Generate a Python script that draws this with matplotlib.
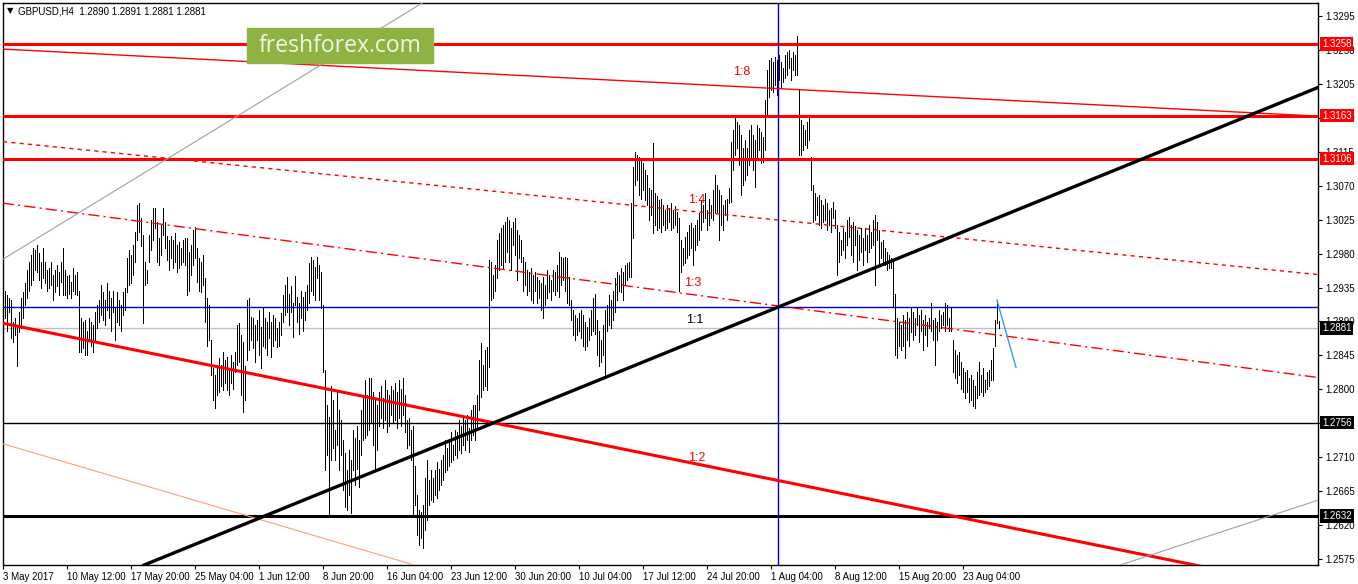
import matplotlib
matplotlib.use("Agg")
import matplotlib.pyplot as plt
from matplotlib.patches import Rectangle

plt.rcParams['font.family'] = ['Liberation Sans', 'DejaVu Sans']

symbol = "GBPUSD,H4"
last_ohlc = [1.2890, 1.2891, 1.2881, 1.2881]

# H4 bars, one label every 32 bars
date_labels = ["3 May 2017", "10 May 12:00", "17 May 20:00", "25 May 04:00", "1 Jun 12:00",
               "8 Jun 20:00", "16 Jun 04:00", "23 Jun 12:00", "30 Jun 20:00", "10 Jul 04:00",
               "17 Jul 12:00", "24 Jul 20:00", "1 Aug 04:00", "8 Aug 12:00", "15 Aug 20:00",
               "23 Aug 04:00"]
bars_per_label = 32

y_ticks = [1.3295, 1.3250, 1.3205, 1.3160, 1.3115, 1.3070, 1.3025, 1.2980, 1.2935,
           1.2890, 1.2845, 1.2800, 1.2755, 1.2710, 1.2665, 1.2620, 1.2575]

highs = [
    1.2947, 1.2931, 1.2925, 1.2921, 1.2918, 1.2889, 1.2894, 1.2885, 1.2902, 1.2921,
    1.2929, 1.2941, 1.2958, 1.2969, 1.2978, 1.2987, 1.2985, 1.2991, 1.2981, 1.2969,
    1.2987, 1.2969, 1.2958, 1.2961, 1.2969, 1.2951, 1.2958, 1.2965, 1.2955, 1.2969,
    1.2987, 1.2958, 1.2950, 1.2951, 1.2942, 1.2961, 1.2951, 1.2955, 1.2931, 1.2894,
    1.2889, 1.2892, 1.2878, 1.2894, 1.2889, 1.2885, 1.2902, 1.2912, 1.2918, 1.2938,
    1.2929, 1.2918, 1.2941, 1.2931, 1.2921, 1.2931, 1.2908, 1.2929, 1.2918, 1.2912,
    1.2929, 1.2934, 1.2974, 1.2985, 1.2978, 1.2991, 1.3008, 1.3045, 1.3047, 1.3027,
    1.3004, 1.2969, 1.2958, 1.3004, 1.3024, 1.3040, 1.3041, 1.3022, 1.3000, 1.3018,
    1.3041, 1.3022, 1.3003, 1.2998, 1.3003, 1.2998, 1.3007, 1.2991, 1.2995, 1.2987,
    1.2998, 1.3000, 1.3000, 1.2982, 1.2991, 1.3011, 1.3015, 1.2987, 1.2974, 1.2969,
    1.2978, 1.2947, 1.2921, 1.2912, 1.2865, 1.2828, 1.2819, 1.2832, 1.2841, 1.2832,
    1.2849, 1.2839, 1.2843, 1.2828, 1.2845, 1.2836, 1.2849, 1.2885, 1.2888, 1.2872,
    1.2863, 1.2831, 1.2918, 1.2921, 1.2896, 1.2894, 1.2885, 1.2892, 1.2905, 1.2882,
    1.2908, 1.2894, 1.2889, 1.2902, 1.2889, 1.2898, 1.2894, 1.2881, 1.2889, 1.2901,
    1.2925, 1.2938, 1.2949, 1.2927, 1.2937, 1.2915, 1.2950, 1.2923, 1.2915, 1.2931,
    1.2922, 1.2929, 1.2938, 1.2967, 1.2975, 1.2971, 1.2962, 1.2976, 1.2965, 1.2955,
    1.2912, 1.2825, 1.2779, 1.2763, 1.2805, 1.2786, 1.2746, 1.2799, 1.2772, 1.2759,
    1.2733, 1.2715, 1.2693, 1.2719, 1.2706, 1.2746, 1.2735, 1.2752, 1.2733, 1.2772,
    1.2788, 1.2812, 1.2792, 1.2815, 1.2815, 1.2796, 1.2786, 1.2779, 1.2796, 1.2805,
    1.2788, 1.2812, 1.2799, 1.2792, 1.2805, 1.2799, 1.2808, 1.2796, 1.2812, 1.2801,
    1.2815, 1.2792, 1.2759, 1.2762, 1.2746, 1.2752, 1.2699, 1.2660, 1.2640, 1.2637,
    1.2646, 1.2682, 1.2706, 1.2680, 1.2693, 1.2682, 1.2693, 1.2703, 1.2695, 1.2706,
    1.2713, 1.2733, 1.2722, 1.2733, 1.2743, 1.2726, 1.2746, 1.2743, 1.2759, 1.2752,
    1.2762, 1.2759, 1.2766, 1.2749, 1.2772, 1.2779, 1.2779, 1.2792, 1.2839, 1.2861,
    1.2832, 1.2852, 1.2856, 1.2971, 1.2969, 1.2951, 1.2965, 1.2998, 1.3007, 1.3014,
    1.3018, 1.3022, 1.3028, 1.3024, 1.3014, 1.3022, 1.3027, 1.3011, 1.3004, 1.2998,
    1.2975, 1.2969, 1.2958, 1.2955, 1.2961, 1.2951, 1.2955, 1.2949, 1.2945, 1.2941,
    1.2949, 1.2938, 1.2958, 1.2951, 1.2945, 1.2958, 1.2955, 1.2965, 1.2982, 1.2975,
    1.2974, 1.2975, 1.2974, 1.2949, 1.2918, 1.2905, 1.2898, 1.2894, 1.2901, 1.2905,
    1.2898, 1.2889, 1.2882, 1.2894, 1.2905, 1.2921, 1.2927, 1.2892, 1.2878, 1.2865,
    1.2885, 1.2905, 1.2912, 1.2925, 1.2918, 1.2931, 1.2947, 1.2955, 1.2951, 1.2961,
    1.2955, 1.2965, 1.2967, 1.2969, 1.3047, 1.3095, 1.3114, 1.3111, 1.3108, 1.3104,
    1.3100, 1.3091, 1.3084, 1.3067, 1.3064, 1.3126, 1.3060, 1.3056, 1.3051, 1.3053,
    1.3044, 1.3038, 1.3044, 1.3040, 1.3047, 1.3038, 1.3043, 1.3035, 1.3027, 1.2998,
    1.2987, 1.3002, 1.3008, 1.3018, 1.3020, 1.3014, 1.3018, 1.3024, 1.3034, 1.3051,
    1.3044, 1.3060, 1.3038, 1.3053, 1.3044, 1.3064, 1.3084, 1.3071, 1.3064, 1.3057,
    1.3044, 1.3051, 1.3053, 1.3067, 1.3128, 1.3144, 1.3160, 1.3154, 1.3150, 1.3137,
    1.3120, 1.3130, 1.3120, 1.3144, 1.3150, 1.3137, 1.3130, 1.3150, 1.3146, 1.3141,
    1.3134, 1.3183, 1.3223, 1.3236, 1.3239, 1.3234, 1.3240, 1.3236, 1.3243, 1.3234,
    1.3226, 1.3243, 1.3247, 1.3250, 1.3239, 1.3247, 1.3243, 1.3268, 1.3197, 1.3157,
    1.3150, 1.3144, 1.3154, 1.3162, 1.3108, 1.3071, 1.3060, 1.3055, 1.3057, 1.3051,
    1.3044, 1.3053, 1.3047, 1.3038, 1.3040, 1.3048, 1.3038, 1.3018, 1.3008, 1.2998,
    1.3014, 1.3008, 1.3024, 1.3028, 1.3018, 1.3022, 1.3016, 1.3011, 1.3004, 1.3014,
    1.3000, 1.3014, 1.3004, 1.3018, 1.3008, 1.3024, 1.3031, 1.3022, 1.3011, 1.2995,
    1.2998, 1.2987, 1.2982, 1.2978, 1.2974, 1.2971, 1.2927, 1.2894, 1.2889, 1.2885,
    1.2898, 1.2892, 1.2902, 1.2894, 1.2909, 1.2902, 1.2894, 1.2909, 1.2898, 1.2905,
    1.2892, 1.2898, 1.2889, 1.2894, 1.2915, 1.2892, 1.2894, 1.2889, 1.2905, 1.2898,
    1.2902, 1.2915, 1.2912, 1.2894, 1.2909, 1.2865, 1.2852, 1.2845, 1.2849, 1.2836,
    1.2828, 1.2823, 1.2825, 1.2815, 1.2819, 1.2812, 1.2805, 1.2823, 1.2836, 1.2819,
    1.2828, 1.2812, 1.2823, 1.2825, 1.2839, 1.2855, 1.2892, 1.2918, 1.2891,
]

lows = [
    1.2905, 1.2894, 1.2878, 1.2902, 1.2868, 1.2863, 1.2872, 1.2831, 1.2876, 1.2881,
    1.2894, 1.2912, 1.2921, 1.2931, 1.2938, 1.2945, 1.2958, 1.2955, 1.2945, 1.2934,
    1.2947, 1.2941, 1.2931, 1.2935, 1.2938, 1.2918, 1.2929, 1.2937, 1.2925, 1.2942,
    1.2925, 1.2925, 1.2921, 1.2927, 1.2921, 1.2931, 1.2927, 1.2925, 1.2849, 1.2849,
    1.2855, 1.2845, 1.2845, 1.2865, 1.2858, 1.2849, 1.2865, 1.2881, 1.2889, 1.2898,
    1.2892, 1.2885, 1.2905, 1.2894, 1.2878, 1.2902, 1.2865, 1.2889, 1.2885, 1.2878,
    1.2898, 1.2905, 1.2929, 1.2938, 1.2941, 1.2951, 1.2969, 1.2998, 1.3008, 1.2990,
    1.2888, 1.2938, 1.2941, 1.2969, 1.2985, 1.2998, 1.3014, 1.2969, 1.2965, 1.2978,
    1.3004, 1.2987, 1.2971, 1.2958, 1.2974, 1.2961, 1.2969, 1.2955, 1.2961, 1.2965,
    1.2969, 1.2965, 1.2925, 1.2931, 1.2951, 1.2965, 1.2974, 1.2942, 1.2931, 1.2929,
    1.2938, 1.2889, 1.2858, 1.2865, 1.2819, 1.2786, 1.2775, 1.2792, 1.2796, 1.2805,
    1.2799, 1.2809, 1.2799, 1.2792, 1.2809, 1.2801, 1.2823, 1.2832, 1.2836, 1.2792,
    1.2770, 1.2786, 1.2839, 1.2852, 1.2865, 1.2855, 1.2836, 1.2865, 1.2845, 1.2828,
    1.2858, 1.2855, 1.2845, 1.2868, 1.2843, 1.2858, 1.2865, 1.2856, 1.2858, 1.2872,
    1.2889, 1.2898, 1.2902, 1.2885, 1.2902, 1.2869, 1.2912, 1.2889, 1.2874, 1.2894,
    1.2878, 1.2892, 1.2905, 1.2914, 1.2931, 1.2925, 1.2918, 1.2947, 1.2918, 1.2908,
    1.2823, 1.2693, 1.2713, 1.2633, 1.2706, 1.2722, 1.2706, 1.2726, 1.2693, 1.2713,
    1.2666, 1.2644, 1.2640, 1.2660, 1.2636, 1.2693, 1.2673, 1.2695, 1.2670, 1.2713,
    1.2733, 1.2735, 1.2739, 1.2746, 1.2756, 1.2726, 1.2693, 1.2719, 1.2752, 1.2762,
    1.2749, 1.2759, 1.2743, 1.2752, 1.2766, 1.2756, 1.2759, 1.2749, 1.2762, 1.2752,
    1.2766, 1.2743, 1.2722, 1.2726, 1.2706, 1.2633, 1.2646, 1.2607, 1.2593, 1.2603,
    1.2589, 1.2613, 1.2627, 1.2646, 1.2653, 1.2650, 1.2660, 1.2656, 1.2666, 1.2673,
    1.2680, 1.2690, 1.2693, 1.2699, 1.2703, 1.2706, 1.2713, 1.2709, 1.2719, 1.2715,
    1.2726, 1.2719, 1.2733, 1.2717, 1.2733, 1.2739, 1.2733, 1.2746, 1.2772, 1.2790,
    1.2799, 1.2805, 1.2799, 1.2829, 1.2918, 1.2921, 1.2931, 1.2947, 1.2958, 1.2965,
    1.2961, 1.2969, 1.2982, 1.2969, 1.2958, 1.2991, 1.2978, 1.2945, 1.2974, 1.2969,
    1.2931, 1.2938, 1.2925, 1.2931, 1.2918, 1.2914, 1.2931, 1.2915, 1.2921, 1.2905,
    1.2894, 1.2912, 1.2921, 1.2929, 1.2918, 1.2931, 1.2925, 1.2931, 1.2922, 1.2938,
    1.2945, 1.2931, 1.2914, 1.2912, 1.2892, 1.2872, 1.2865, 1.2872, 1.2878, 1.2868,
    1.2858, 1.2852, 1.2858, 1.2865, 1.2872, 1.2878, 1.2874, 1.2845, 1.2831, 1.2836,
    1.2845, 1.2815, 1.2878, 1.2885, 1.2881, 1.2892, 1.2902, 1.2918, 1.2931, 1.2929,
    1.2918, 1.2938, 1.2945, 1.2949, 1.2949, 1.3000, 1.3071, 1.3077, 1.3057, 1.3053,
    1.3064, 1.3051, 1.3044, 1.3024, 1.3031, 1.3007, 1.3018, 1.3011, 1.3014, 1.3008,
    1.3018, 1.3011, 1.3014, 1.3022, 1.3011, 1.3014, 1.3018, 1.3008, 1.2931, 1.2955,
    1.2965, 1.2967, 1.2974, 1.2978, 1.2987, 1.2965, 1.2985, 1.2991, 1.2998, 1.3011,
    1.3022, 1.3027, 1.3011, 1.3018, 1.3027, 1.3024, 1.3034, 1.3035, 1.2998, 1.3018,
    1.3011, 1.3031, 1.3024, 1.3047, 1.3048, 1.3091, 1.3111, 1.3120, 1.3097, 1.3057,
    1.3071, 1.3077, 1.3084, 1.3097, 1.3104, 1.3091, 1.3068, 1.3104, 1.3117, 1.3100,
    1.3101, 1.3117, 1.3161, 1.3187, 1.3197, 1.3194, 1.3203, 1.3190, 1.3210, 1.3201,
    1.3207, 1.3213, 1.3217, 1.3226, 1.3210, 1.3223, 1.3217, 1.3217, 1.3111, 1.3111,
    1.3117, 1.3124, 1.3120, 1.3130, 1.3064, 1.3022, 1.3024, 1.3031, 1.3018, 1.3014,
    1.3022, 1.3024, 1.3011, 1.3018, 1.3008, 1.3027, 1.3014, 1.2951, 1.2969, 1.2978,
    1.2985, 1.2974, 1.2991, 1.3002, 1.2978, 1.2969, 1.2991, 1.2958, 1.2971, 1.2982,
    1.2965, 1.2985, 1.2969, 1.2982, 1.2987, 1.2991, 1.2938, 1.2998, 1.2965, 1.2974,
    1.2969, 1.2965, 1.2958, 1.2961, 1.2961, 1.2909, 1.2845, 1.2841, 1.2858, 1.2852,
    1.2858, 1.2841, 1.2865, 1.2858, 1.2876, 1.2865, 1.2872, 1.2885, 1.2863, 1.2878,
    1.2852, 1.2872, 1.2858, 1.2881, 1.2878, 1.2865, 1.2832, 1.2865, 1.2878, 1.2881,
    1.2885, 1.2878, 1.2885, 1.2878, 1.2878, 1.2823, 1.2815, 1.2808, 1.2819, 1.2801,
    1.2796, 1.2788, 1.2796, 1.2783, 1.2786, 1.2778, 1.2775, 1.2788, 1.2792, 1.2796,
    1.2791, 1.2796, 1.2801, 1.2805, 1.2812, 1.2812, 1.2858, 1.2888, 1.2881,
]

# horizontal levels
red_levels = [1.3258, 1.3163, 1.3106]
thin_black_level = 1.2756
thick_black_level = 1.2632
current_price = 1.2881
blue_level = 1.2909
blue_bar = 387.5

# trend / fan lines as (bar, price) pairs
fan_1_8 = [(0, 1.32511), (657.5, 1.31622)]
fan_1_4 = [(0, 1.31284), (657.5, 1.29521)]
fan_1_3 = [(0, 1.30468), (657.5, 1.28157)]
fan_1_2 = [(0, 1.28876), (657.5, 1.25339)]
uptrend = [(70.5, 1.25670), (657.5, 1.32002)]
gray_upper = [(0, 1.29726), (220, 1.33290)]
gray_lower = [(558.5, 1.25670), (657.5, 1.26530)]
salmon_line = [(0, 1.27278), (230, 1.25480)]
forecast = [(497, 1.2918), (506.5, 1.2829)]

W, H = 1358, 584
fig = plt.figure(figsize=(W / 100, H / 100), dpi=100)
ax = fig.add_axes([2.5 / W, (H - 565) / H, (1318 - 2.5) / W, (565 - 3) / H])

n = min(len(highs), len(lows))
ax.vlines(range(n), lows[:n], highs[:n], colors='black', linewidth=0.5,
          antialiased=False, zorder=2)


def seg(pts, **kw):
    ax.plot([pts[0][0], pts[1][0]], [pts[0][1], pts[1][1]], **kw)


ax.axhline(current_price, color='#c0c0c0', lw=1.0, zorder=1)
for lvl in red_levels:
    ax.axhline(lvl, color='red', lw=2.2, zorder=3)
ax.axhline(thin_black_level, color='black', lw=1.0, zorder=3)
ax.axhline(thick_black_level, color='black', lw=2.2, zorder=3)
ax.axhline(blue_level, color='#0000cd', lw=1.0, zorder=3)
ax.axvline(blue_bar, color='#0000cd', lw=1.0, zorder=3)

seg(fan_1_8, color='red', lw=1.0, zorder=3)
seg(fan_1_4, color='red', lw=1.0, dashes=(3, 3), zorder=3)
seg(fan_1_3, color='red', lw=1.0, dashes=(8, 3, 1.5, 3), zorder=3)
seg(fan_1_2, color='red', lw=2.2, zorder=3)
seg(uptrend, color='black', lw=2.4, zorder=4)
seg(gray_upper, color='#a0a0a0', lw=0.8, zorder=3)
seg(gray_lower, color='#a0a0a0', lw=0.8, zorder=3)
seg(salmon_line, color='#ffa07a', lw=0.8, zorder=3)
seg(forecast, color='#3399ff', lw=1.0, zorder=4)

ax.text(365, 1.3221, "1:8", color='red', fontsize=9, va='center', zorder=5)
ax.text(342.5, 1.3051, "1:4", color='red', fontsize=9, va='center', zorder=5)
ax.text(340.5, 1.2941, "1:3", color='red', fontsize=9, va='center', zorder=5)
ax.text(341.5, 1.2892, "1:1", color='black', fontsize=9, va='center', zorder=5)
ax.text(342.5, 1.2709, "1:2", color='red', fontsize=9, va='center', zorder=5)

ax.set_xlim(-0.25, 657.5)
ax.set_ylim(1.25671, 1.33122)

ax.yaxis.tick_right()
ax.set_yticks(y_ticks)
ax.set_yticklabels([f"{v:.4f}" for v in y_ticks])
ax.tick_params(axis='y', direction='out', length=3, pad=2, labelsize=7, colors='black')

ax.set_xticks([i * bars_per_label for i in range(len(date_labels))])
ax.set_xticklabels(date_labels)
ax.tick_params(axis='x', direction='out', length=3, pad=2, labelsize=7, colors='black')
for lab in ax.get_xticklabels():
    lab.set_ha('left')

for sp in ax.spines.values():
    sp.set_color('black')
    sp.set_linewidth(1.0)

# highlighted price tags on the right scale
tags = [(1.3258, 'red'), (1.3163, 'red'), (1.3106, 'red'),
        (1.2881, 'black'), (1.2756, 'black'), (1.2632, 'black')]
for lvl, col in tags:
    ax.text(1.003, lvl, f"{lvl:.4f}", transform=ax.get_yaxis_transform(),
            ha='left', va='center', color='white', fontsize=7, clip_on=False, zorder=10,
            bbox=dict(boxstyle='square,pad=0.2', fc=col, ec='none'))

# header
fig.text(7 / W, 1 - 11 / H, "\u25bc", fontsize=6, va='center', family=['DejaVu Sans'])
fig.text(18 / W, 1 - 11 / H,
         f"{symbol}  " + " ".join(f"{v:.4f}" for v in last_ohlc),
         fontsize=7, va='center')

# watermark
fig.add_artist(Rectangle((247 / W, 1 - 63 / H), 186 / W, 35 / H,
                         transform=fig.transFigure, color='#8db443', zorder=20))
fig.text(340 / W, 1 - 45.5 / H, "freshforex.com", fontsize=16.5, color='#f5f5e6',
         ha='center', va='center', family=['Open Sans'], zorder=21)

fig.savefig("out.png", dpi=100, facecolor='white')
